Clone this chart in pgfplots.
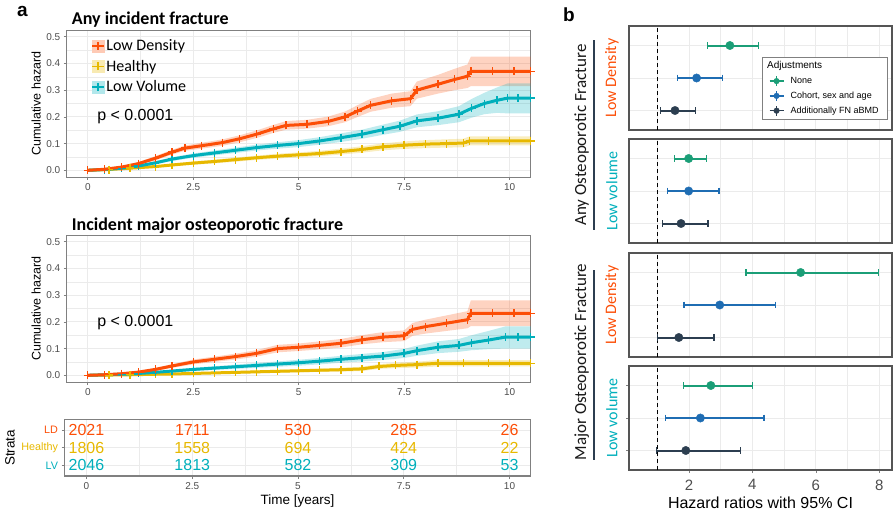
\documentclass[border=0pt]{standalone}
\usepackage{pgfplots}
\pgfplotsset{compat=1.18}
\usepackage{pgfplotstable}
\usepgfplotslibrary{fillbetween}
\usepackage{fontspec}
\setmainfont{Liberation Sans}
\newfontfamily\calib{Carlito}

\definecolor{ldc}{HTML}{FC4E07}
\definecolor{hc}{HTML}{E7B800}
\definecolor{lvc}{HTML}{00AFBB}
\definecolor{nonec}{HTML}{1B9E77}
\definecolor{cohc}{HTML}{1F6DB3}
\definecolor{fnc}{RGB}{44,62,80}
\definecolor{tickgray}{HTML}{4D4D4D}
\definecolor{gridc}{HTML}{EBEBEB}
\definecolor{boxgray}{HTML}{808080}
\definecolor{panelgray}{HTML}{555555}

% cumulative hazard, any incident fracture
\pgfplotstableread{
x y lo hi
0 0 0 0
0.4 0.004 0.002 0.006
0.8 0.012 0.008 0.016
1.2 0.025 0.019 0.031
1.6 0.045 0.037 0.053
2.0 0.068 0.059 0.077
2.3 0.083 0.073 0.093
2.7 0.092 0.081 0.103
3.2 0.104 0.092 0.116
3.6 0.118 0.105 0.131
4.0 0.135 0.121 0.149
4.4 0.155 0.140 0.170
4.7 0.168 0.152 0.184
5.2 0.172 0.156 0.189
5.7 0.183 0.165 0.201
6.1 0.200 0.180 0.220
6.4 0.222 0.200 0.244
6.7 0.243 0.219 0.267
7.2 0.260 0.234 0.287
7.65 0.268 0.240 0.296
7.8 0.300 0.268 0.332
8.3 0.322 0.287 0.357
8.7 0.340 0.300 0.380
9.0 0.352 0.308 0.396
9.08 0.370 0.315 0.425
9.6 0.370 0.315 0.425
10.1 0.370 0.315 0.425
10.5 0.370 0.315 0.425
}\anyLD
\pgfplotstableread{
x y lo hi
0 0 0 0
0.5 0.003 0.001 0.005
1.0 0.008 0.005 0.011
1.6 0.014 0.010 0.018
2.0 0.020 0.015 0.025
2.5 0.027 0.021 0.033
3.0 0.033 0.026 0.040
3.5 0.040 0.032 0.048
4.0 0.047 0.039 0.055
4.5 0.053 0.044 0.062
5.0 0.058 0.049 0.067
5.5 0.063 0.053 0.073
6.0 0.070 0.059 0.081
6.5 0.078 0.066 0.090
7.0 0.088 0.075 0.101
7.5 0.094 0.080 0.108
8.0 0.098 0.083 0.113
8.5 0.100 0.085 0.116
8.9 0.102 0.086 0.118
9.05 0.110 0.093 0.127
9.5 0.110 0.093 0.127
10.0 0.110 0.093 0.127
10.5 0.110 0.093 0.127
}\anyH
\pgfplotstableread{
x y lo hi
0 0 0 0
0.4 0.003 0.001 0.005
0.8 0.008 0.005 0.011
1.2 0.016 0.011 0.021
1.6 0.028 0.022 0.034
2.0 0.042 0.035 0.049
2.5 0.055 0.047 0.063
3.0 0.065 0.056 0.074
3.5 0.075 0.065 0.085
4.0 0.085 0.074 0.096
4.5 0.093 0.081 0.105
5.0 0.100 0.087 0.113
5.5 0.110 0.096 0.124
6.0 0.122 0.106 0.138
6.5 0.135 0.118 0.152
7.0 0.152 0.133 0.171
7.4 0.165 0.144 0.186
7.8 0.185 0.161 0.209
8.3 0.195 0.169 0.221
8.8 0.210 0.180 0.240
9.1 0.232 0.197 0.267
9.4 0.250 0.210 0.290
9.7 0.262 0.215 0.310
9.95 0.270 0.213 0.325
10.2 0.270 0.213 0.325
10.5 0.270 0.213 0.325
}\anyLV

% major osteoporotic fracture
\pgfplotstableread{
x y lo hi
0 0 0 0
0.4 0.002 0.001 0.003
0.8 0.006 0.003 0.009
1.2 0.012 0.008 0.016
1.6 0.022 0.016 0.028
2.0 0.035 0.028 0.042
2.5 0.050 0.041 0.059
3.0 0.060 0.050 0.070
3.5 0.070 0.059 0.081
4.0 0.082 0.070 0.094
4.5 0.100 0.086 0.114
5.0 0.105 0.091 0.119
5.5 0.112 0.097 0.127
6.0 0.120 0.104 0.136
6.5 0.133 0.116 0.150
7.0 0.143 0.124 0.162
7.5 0.148 0.128 0.168
7.7 0.172 0.148 0.196
8.0 0.182 0.156 0.208
8.5 0.195 0.166 0.224
9.0 0.208 0.176 0.240
9.08 0.232 0.184 0.280
9.6 0.232 0.184 0.280
10.1 0.232 0.184 0.280
10.5 0.232 0.184 0.280
}\majLD
\pgfplotstableread{
x y lo hi
0 0 0 0
0.5 0.001 0.000 0.002
1.0 0.002 0.001 0.003
1.6 0.004 0.002 0.006
2.0 0.005 0.003 0.007
2.5 0.007 0.004 0.010
3.0 0.009 0.005 0.013
3.5 0.011 0.007 0.015
4.0 0.013 0.008 0.018
4.5 0.015 0.010 0.020
5.0 0.017 0.011 0.023
5.5 0.019 0.013 0.025
6.0 0.021 0.014 0.028
6.5 0.024 0.016 0.032
6.9 0.033 0.024 0.042
7.3 0.037 0.027 0.047
7.8 0.040 0.029 0.051
8.3 0.045 0.033 0.057
8.9 0.045 0.033 0.057
9.5 0.045 0.033 0.057
10.0 0.045 0.033 0.057
10.5 0.045 0.033 0.057
}\majH
\pgfplotstableread{
x y lo hi
0 0 0 0
0.4 0.002 0.001 0.003
0.8 0.004 0.002 0.006
1.2 0.007 0.004 0.010
1.6 0.011 0.007 0.015
2.0 0.016 0.011 0.021
2.5 0.022 0.016 0.028
3.0 0.027 0.020 0.034
3.5 0.032 0.024 0.040
4.0 0.037 0.028 0.046
4.5 0.042 0.032 0.052
5.0 0.047 0.036 0.058
5.5 0.053 0.041 0.065
6.0 0.060 0.047 0.073
6.5 0.066 0.052 0.080
7.0 0.072 0.057 0.087
7.5 0.082 0.065 0.099
7.8 0.092 0.073 0.111
8.3 0.105 0.083 0.127
8.8 0.112 0.088 0.136
9.1 0.122 0.094 0.150
9.5 0.132 0.098 0.166
9.9 0.143 0.100 0.183
10.2 0.143 0.100 0.183
10.5 0.143 0.100 0.183
}\majLV

\newcommand{\kmband}[3]{%
  \addplot[name path=#3u, draw=none, forget plot] table[x=x,y=hi]{#1};
  \addplot[name path=#3l, draw=none, forget plot] table[x=x,y=lo]{#1};
  \addplot[fill=#2, fill opacity=0.25, draw=none, forget plot] fill between[of=#3u and #3l];
}
\newcommand{\kmline}[2]{%
  \addplot[#2, line width=3pt, mark=+, mark size=4pt,
    mark options={line width=1.4pt}, forget plot] table[x=x,y=y]{#1};
}
\newcommand{\hr}[5]{%
  \addplot[#1, line width=2pt, mark=|, mark size=3.3pt, mark options={line width=1.5pt}, forget plot]
    coordinates {(#3,#2) (#5,#2)};
  \addplot[#1, only marks, mark=*, mark size=4.2pt, forget plot] coordinates {(#4,#2)};
}

\pgfplotsset{
  kmaxis/.style={scale only axis, anchor=north west, width=464pt, height=147pt,
    xmin=-0.5, xmax=10.5, ymin=-0.025, ymax=0.525,
    xtick={0,2.5,5,7.5,10}, ytick={0,0.1,0.2,0.3,0.4,0.5},
    minor xtick={1.25,3.75,6.25,8.75}, minor ytick={0.05,0.15,0.25,0.35,0.45},
    grid=both, major grid style={gridc, line width=0.8pt}, minor grid style={gridc, line width=0.5pt},
    axis line style={boxgray, line width=0.9pt},
    tick align=outside, xtick pos=left, ytick pos=left,
    major tick length=3pt, minor tick length=0pt, tick style={boxgray, line width=0.6pt},
    /pgf/number format/assume math mode=true,
    tick label style={font=\fontsize{10}{12}\selectfont, text=tickgray},
    yticklabel style={/pgf/number format/fixed, /pgf/number format/fixed zerofill, /pgf/number format/precision=1},
    ylabel={Cumulative hazard},
    ylabel style={at={(axis description cs:-0.066,0.5)}, anchor=center, font=\fontsize{12.5}{15}\selectfont},
    title style={at={(axis description cs:0,1)}, anchor=base west, xshift=5pt, inner sep=0pt,
      font=\calib\bfseries\fontsize{18}{21}\selectfont},
  },
  hrpanel/.style={scale only axis, anchor=north west, width=263pt, height=104pt,
    xmin=0.11, xmax=8.4, ymin=0.4, ymax=3.6,
    xtick={2,4,6,8}, minor xtick={1,3,5,7}, ytick={1,2,3}, yticklabels={,,},
    grid=both, major grid style={gridc, line width=0.9pt}, minor grid style={gridc, line width=0.9pt},
    axis line style={panelgray, line width=1.1pt},
    tick align=outside, xtick pos=left, ytick pos=left,
    major tick length=0pt, minor tick length=0pt, tick style={boxgray, line width=0.6pt},
    /pgf/number format/assume math mode=true,
    tick label style={font=\fontsize{15}{18}\selectfont, text=tickgray},
    ylabel style={at={(axis description cs:-0.065,0.5)}, anchor=center, font=\calib\fontsize{16}{19}\selectfont},
  },
}

\begin{document}
\begin{tikzpicture}

% ---------- panel a ----------
\node[anchor=base west, inner sep=0pt, font=\bfseries\fontsize{19}{22}\selectfont] at (17pt,-16.7pt) {a};

\begin{axis}[kmaxis, at={(66.7pt,-30pt)}, title={Any incident fracture},
  legend style={at={(axis description cs:0.046,0.96)}, anchor=north west, draw=none, fill=none,
    font=\calib\fontsize{16}{19}\selectfont, row sep=5pt, nodes={inner sep=1.5pt}},
  legend cell align=left]
\addlegendimage{legend image code/.code={\fill[ldc!30] (0pt,-6pt) rectangle (12pt,6pt);
  \draw[ldc, line width=1.6pt] (0pt,0pt)--(12pt,0pt) (6pt,-4pt)--(6pt,4pt);}}
\addlegendentry{Low Density}
\addlegendimage{legend image code/.code={\fill[hc!30] (0pt,-6pt) rectangle (12pt,6pt);
  \draw[hc, line width=1.6pt] (0pt,0pt)--(12pt,0pt) (6pt,-4pt)--(6pt,4pt);}}
\addlegendentry{Healthy}
\addlegendimage{legend image code/.code={\fill[lvc!30] (0pt,-6pt) rectangle (12pt,6pt);
  \draw[lvc, line width=1.6pt] (0pt,0pt)--(12pt,0pt) (6pt,-4pt)--(6pt,4pt);}}
\addlegendentry{Low Volume}
\kmband{\anyLD}{ldc}{aLD}
\kmband{\anyLV}{lvc}{aLV}
\kmband{\anyH}{hc}{aH}
\kmline{\anyH}{hc}
\kmline{\anyLV}{lvc}
\kmline{\anyLD}{ldc}
\node[anchor=west, font=\fontsize{16}{19}\selectfont, inner sep=0pt] at (axis cs:0.22,0.2) {p < 0.0001};
\end{axis}

\begin{axis}[kmaxis, at={(66.7pt,-235pt)}, title={Incident major osteoporotic fracture},
  title style={yshift=-1pt}]
\kmband{\majLD}{ldc}{mLD}
\kmband{\majLV}{lvc}{mLV}
\kmband{\majH}{hc}{mH}
\kmline{\majH}{hc}
\kmline{\majLV}{lvc}
\kmline{\majLD}{ldc}
\node[anchor=west, font=\fontsize{16}{19}\selectfont, inner sep=0pt] at (axis cs:0.22,0.196) {p < 0.0001};
\end{axis}

% risk table
\begin{axis}[scale only axis, anchor=north west, at={(64.5pt,-419.5pt)}, width=466.2pt, height=56.5pt,
  xmin=-0.52, xmax=10.5, ymin=0.4, ymax=3.6,
  xtick={0,2.5,5,7.5,10}, minor xtick={1.25,3.75,6.25,8.75}, ytick={1,2,3},
  yticklabels={\textcolor{lvc}{LV}, \textcolor{hc}{Healthy}, \textcolor{ldc}{LD}},
  grid=both, major grid style={gridc, line width=0.8pt}, minor grid style={gridc, line width=0.5pt},
  axis line style={boxgray, line width=1.1pt},
  tick align=outside, xtick pos=left, ytick pos=left,
  major tick length=3pt, minor tick length=0pt, tick style={boxgray, line width=0.6pt},
  /pgf/number format/assume math mode=true,
  xticklabel style={font=\fontsize{10}{12}\selectfont, text=tickgray},
  yticklabel style={font=\fontsize{10.8}{13}\selectfont},
  xlabel={Time [years]}, xlabel style={at={(axis description cs:0.5,-0.437)}, anchor=center, font=\fontsize{13.5}{16}\selectfont},
  ylabel={Strata}, ylabel style={at={(axis description cs:-0.117,0.5)}, anchor=center, font=\fontsize{13.5}{16}\selectfont},
  nodes near coords, point meta=explicit symbolic, nodes near coords align=center,
  every node near coord/.append style={font=\fontsize{16}{18}\selectfont, anchor=center, inner sep=0pt}]
\addplot[only marks, mark=none, every node near coord/.append style={text=ldc}]
  table[x=x, y=y, meta=n]{
x y n
0 3 2021
2.5 3 1711
5 3 530
7.5 3 285
10 3 26
};
\addplot[only marks, mark=none, every node near coord/.append style={text=hc}]
  table[x=x, y=y, meta=n]{
x y n
0 2 1806
2.5 2 1558
5 2 694
7.5 2 424
10 2 22
};
\addplot[only marks, mark=none, every node near coord/.append style={text=lvc}]
  table[x=x, y=y, meta=n]{
x y n
0 1 2046
2.5 1 1813
5 1 582
7.5 1 309
10 1 53
};
\end{axis}

% ---------- panel b ----------
\node[anchor=base west, inner sep=0pt, font=\bfseries\fontsize{19}{22}\selectfont] at (563pt,-21.7pt) {b};

\begin{axis}[hrpanel, at={(629pt,-26pt)}, xticklabels={,,,}, ylabel={Low Density}, ylabel style={text=ldc},
  legend style={at={(axis description cs:0.5046,0.702)}, anchor=north west, draw=boxgray, fill=white,
    font=\fontsize{9}{11}\selectfont, row sep=3.5pt, inner xsep=7pt, inner ysep=3pt, column sep=5pt,
    nodes={inner sep=1.5pt}},
  legend cell align=left]
\addlegendimage{empty legend}
\addlegendentry{\hspace*{-23.5pt}\fontsize{10}{12}\selectfont Adjustments}
\addlegendimage{nonec, legend image code/.code={\draw[line width=1.3pt] (0pt,0pt)--(14pt,0pt) (7pt,-5pt)--(7pt,5pt);
  \fill (7pt,0pt) circle (2.8pt);}}
\addlegendentry{None}
\addlegendimage{cohc, legend image code/.code={\draw[line width=1.3pt] (0pt,0pt)--(14pt,0pt) (7pt,-5pt)--(7pt,5pt);
  \fill (7pt,0pt) circle (2.8pt);}}
\addlegendentry{Cohort, sex and age}
\addlegendimage{fnc, legend image code/.code={\draw[line width=1.3pt] (0pt,0pt)--(14pt,0pt) (7pt,-5pt)--(7pt,5pt);
  \fill (7pt,0pt) circle (2.8pt);}}
\addlegendentry{Additionally FN aBMD}
\addplot[black, dashed, dash pattern=on 4pt off 3pt, line width=1.2pt, forget plot] coordinates {(1,0.4) (1,3.6)};
\hr{nonec}{3}{2.59}{3.29}{4.19}
\hr{cohc}{2}{1.64}{2.24}{3.06}
\hr{fnc}{1}{1.11}{1.56}{2.21}
\end{axis}

\begin{axis}[hrpanel, at={(629pt,-139pt)}, xticklabels={,,,}, ylabel={Low volume}, ylabel style={text=lvc}]
\addplot[black, dashed, dash pattern=on 4pt off 3pt, line width=1.2pt, forget plot] coordinates {(1,0.4) (1,3.6)};
\hr{nonec}{3}{1.54}{1.99}{2.55}
\hr{cohc}{2}{1.33}{1.99}{2.95}
\hr{fnc}{1}{1.16}{1.75}{2.60}
\end{axis}

\begin{axis}[hrpanel, at={(629pt,-253pt)}, xticklabels={,,,}, ylabel={Low Density}, ylabel style={text=ldc}]
\addplot[black, dashed, dash pattern=on 4pt off 3pt, line width=1.2pt, forget plot] coordinates {(1,0.4) (1,3.6)};
\hr{nonec}{3}{3.80}{5.52}{7.98}
\hr{cohc}{2}{1.85}{2.97}{4.73}
\hr{fnc}{1}{1.01}{1.68}{2.79}
\end{axis}

\begin{axis}[hrpanel, at={(629pt,-366pt)}, ylabel={Low volume}, ylabel style={text=lvc},
  major tick length=3pt, xticklabel style={yshift=-3pt},
  xlabel={Hazard ratios with 95\% CI},
  xlabel style={at={(axis description cs:0.5,-0.315)}, anchor=center, font=\fontsize{16}{19}\selectfont}]
\addplot[black, dashed, dash pattern=on 4pt off 3pt, line width=1.2pt, forget plot] coordinates {(1,0.4) (1,3.6)};
\hr{nonec}{3}{1.82}{2.69}{4.01}
\hr{cohc}{2}{1.26}{2.36}{4.37}
\hr{fnc}{1}{0.97}{1.90}{3.62}
\end{axis}

\node[rotate=90, font=\calib\fontsize{17}{20}\selectfont, text=black!90] at (581.7pt,-135pt) {Any Osteoporotic Fracture};
\draw[fnc, line width=2pt] (594.3pt,-40pt) -- (594.3pt,-230pt);
\node[rotate=90, font=\calib\fontsize{17}{20}\selectfont, text=black!90] at (581.7pt,-362pt) {Major Osteoporotic Fracture};
\draw[fnc, line width=2pt] (594.3pt,-270pt) -- (594.3pt,-460pt);

\pgfresetboundingbox
\path[use as bounding box] (0pt,0pt) rectangle (896pt,-512pt);
\end{tikzpicture}
\end{document}
